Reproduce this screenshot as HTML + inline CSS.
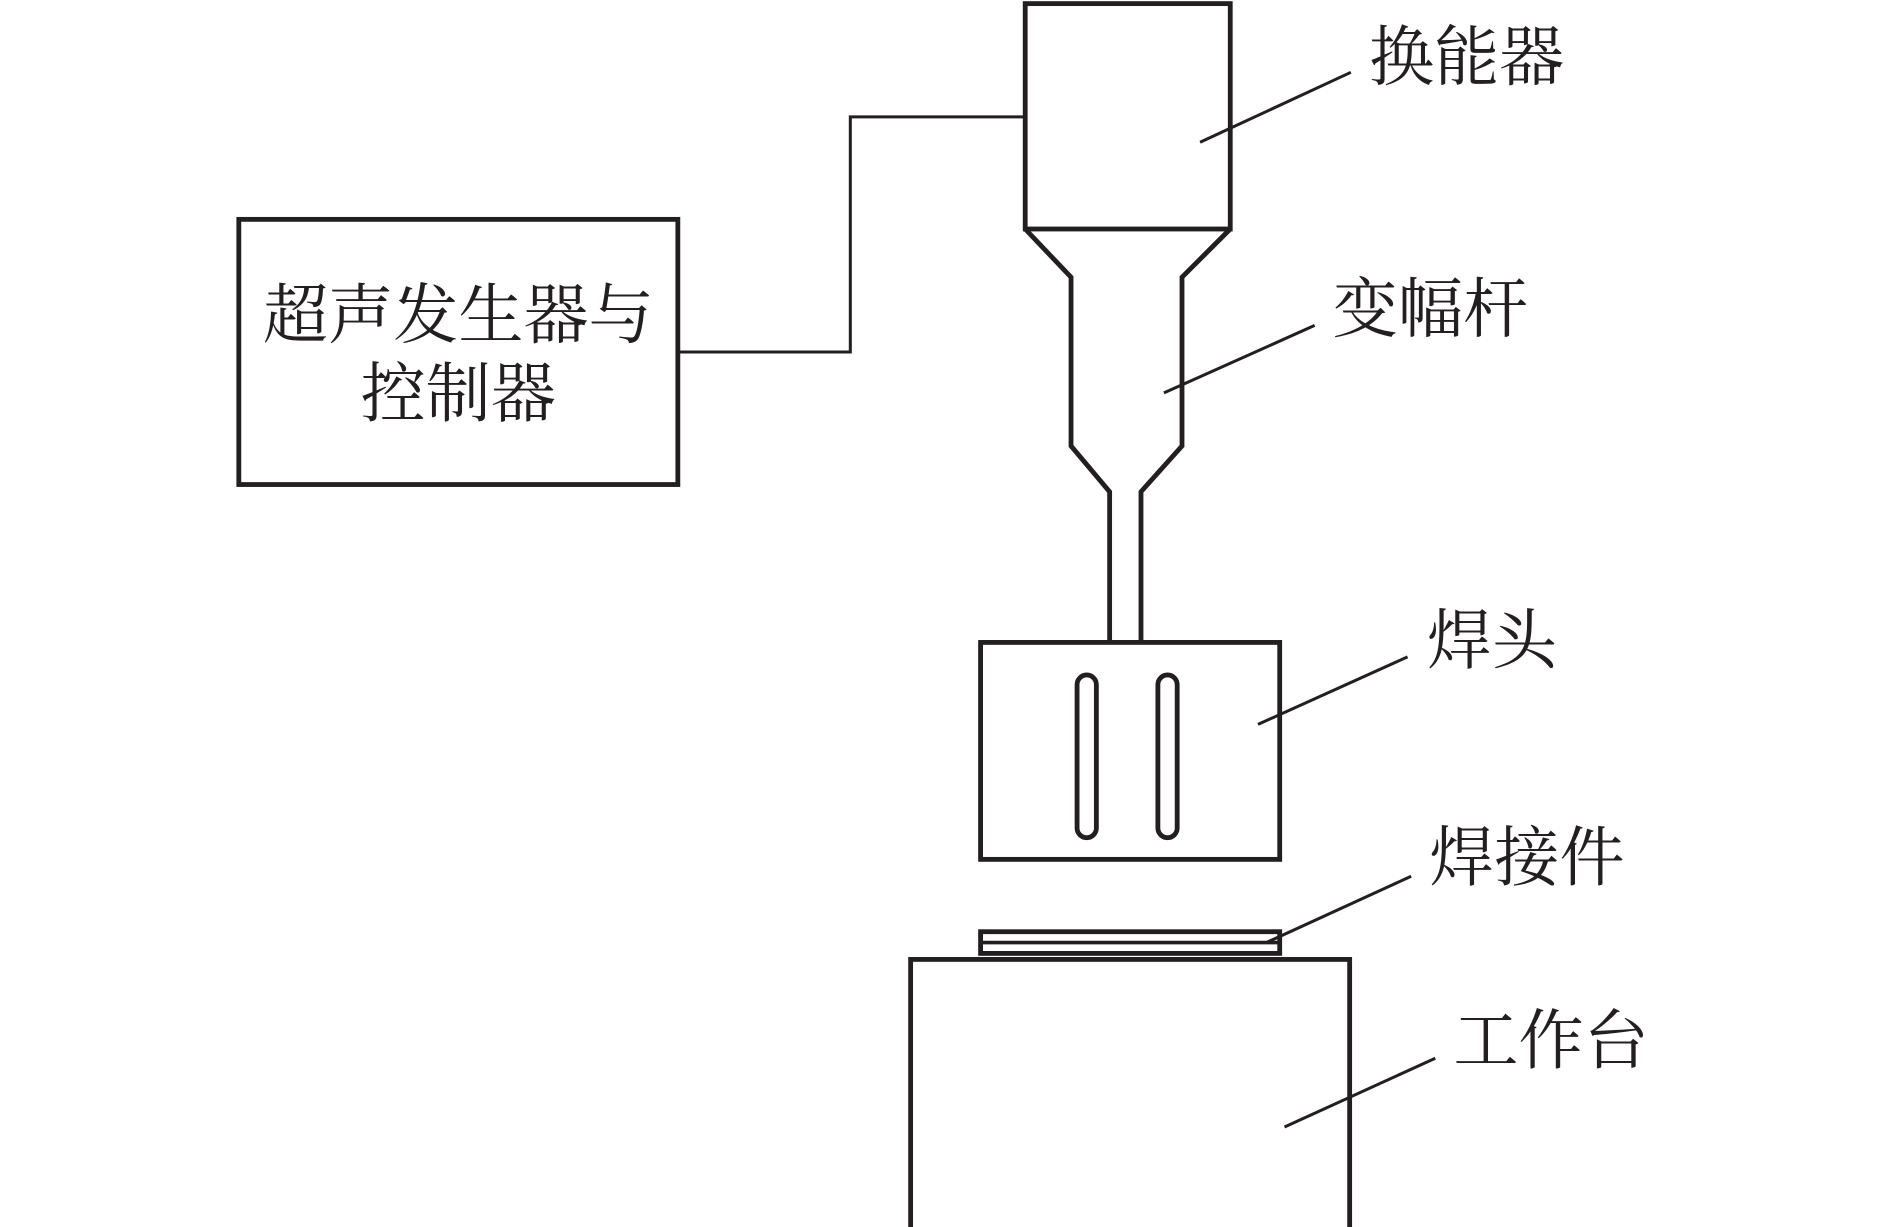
<!DOCTYPE html>
<html><head><meta charset="utf-8"><style>html,body{margin:0;padding:0;background:#fff;}svg{display:block}</style></head>
<body>
<svg width="1890" height="1227" viewBox="0 0 1567 1018" preserveAspectRatio="none" xmlns="http://www.w3.org/2000/svg">
<g fill="none" stroke="#231f20" stroke-width="4">
<rect x="850" y="3" width="170" height="187"/>
<path d="M850 190 L888 230 L888 370 L920 408 L920 532"/>
<path d="M1020 190 L980 230 L980 370 L946 408 L946 532"/>
<rect x="198" y="182" width="364" height="220"/>
<rect x="813" y="533" width="248" height="180"/>
<rect x="893" y="560" width="16" height="135" rx="8"/>
<rect x="960" y="560" width="16" height="135" rx="8"/>
<rect x="813" y="773" width="248" height="18"/>
<line x1="813" y1="782" x2="1061" y2="782" stroke-width="3"/>
<rect x="755" y="796" width="364" height="230"/>
</g>
<g fill="none" stroke="#231f20" stroke-width="2.5">
<path d="M850 97 L705 97 L705 292 L562 292"/>
<line x1="995" y1="118" x2="1120" y2="60"/>
<line x1="965" y1="326" x2="1090" y2="270"/>
<line x1="1043" y1="601" x2="1167" y2="545"/>
<line x1="1050" y1="782" x2="1170" y2="727"/>
<line x1="1065" y1="935" x2="1190" y2="878"/>
</g>
<g font-family="'Liberation Serif','Noto Serif CJK SC',serif" font-size="54" fill="#231f20">
<text x="380" y="280" text-anchor="middle">超声发生器与</text>
<text x="380" y="345" text-anchor="middle">控制器</text>
<text x="1135" y="66">换能器</text>
<text x="1105" y="275">变幅杆</text>
<text x="1183" y="550">焊头</text>
<text x="1185" y="730">焊接件</text>
<text x="1205" y="882">工作台</text>
</g>
</svg>
</body></html>
